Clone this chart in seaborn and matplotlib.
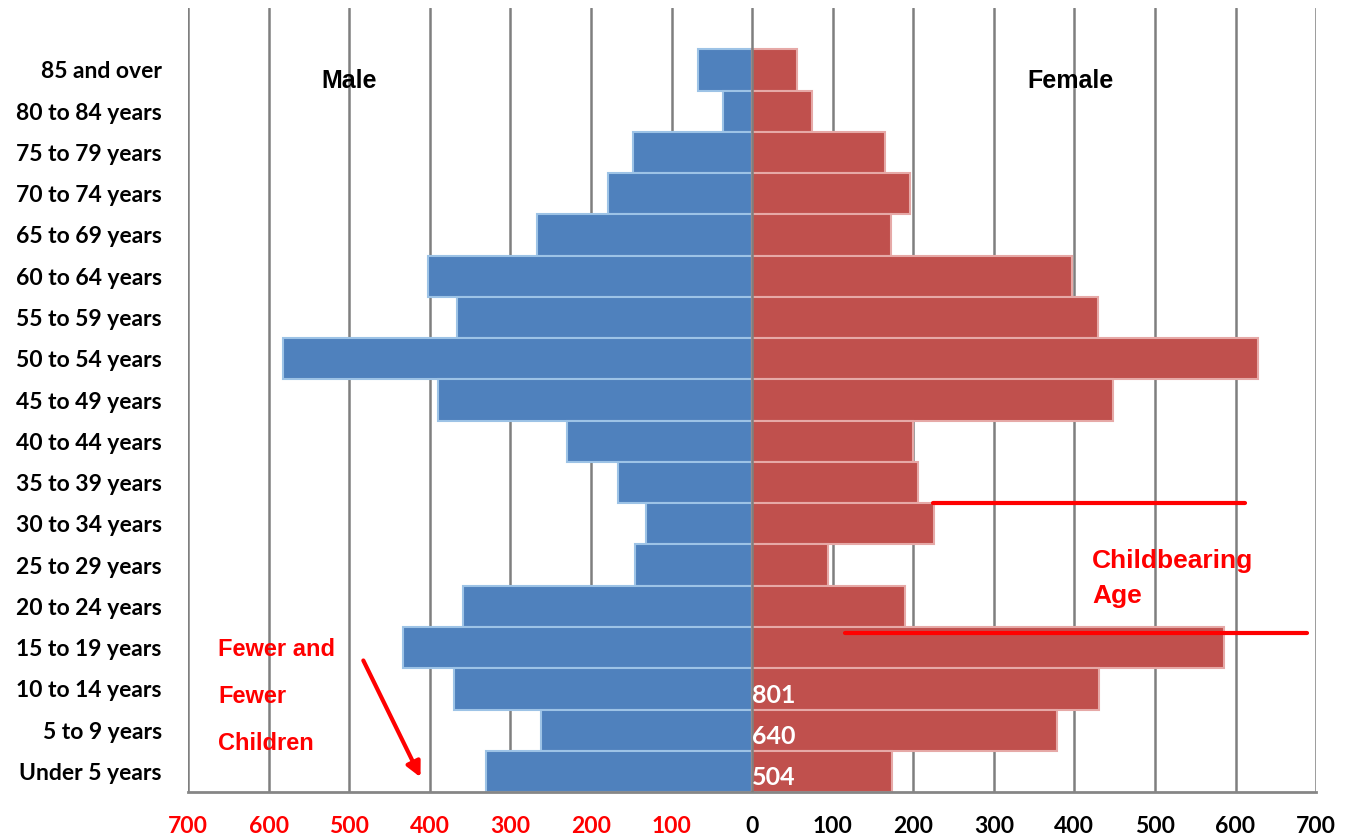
import pandas as pd
import matplotlib.pyplot as plt
import seaborn as sns

# age groups, top to bottom
ages = ['85 and over', '80 to 84 years', '75 to 79 years', '70 to 74 years',
        '65 to 69 years', '60 to 64 years', '55 to 59 years', '50 to 54 years',
        '45 to 49 years', '40 to 44 years', '35 to 39 years', '30 to 34 years',
        '25 to 29 years', '20 to 24 years', '15 to 19 years', '10 to 14 years',
        '5 to 9 years', 'Under 5 years']
male = [67, 36, 148, 179, 267, 402, 366, 582, 390, 230, 166, 132, 145, 359, 433, 370, 262, 330]
female = [56, 74, 165, 196, 172, 397, 429, 628, 448, 200, 206, 226, 94, 190, 586, 431, 378, 174]

# totals printed on the youngest groups
total_ages = ['10 to 14 years', '5 to 9 years', 'Under 5 years']
totals = [801, 640, 504]

ticks = [-700, -600, -500, -400, -300, -200, -100, 0, 100, 200, 300, 400, 500, 600, 700]

df = pd.DataFrame({'age': ages, 'male': [-v for v in male], 'female': female})

sns.set_style('white')
plt.rcParams['font.family'] = ['Lato', 'DejaVu Sans']

fig = plt.figure(figsize=(13.54, 8.40), dpi=100)
ax = fig.add_axes([0.1389, 0.057, 0.8331, 0.9335])

sns.barplot(data=df, x='male', y='age', order=ages, orient='h', color='#4F81BD',
            edgecolor='#9DC3E6', linewidth=1.5, width=1.0, saturation=1, ax=ax, zorder=2)
sns.barplot(data=df, x='female', y='age', order=ages, orient='h', color='#C0504D',
            edgecolor='#E6A9A7', linewidth=1.5, width=1.0, saturation=1, ax=ax, zorder=2)

ax.set_xlim(-700, 700)
ax.set_ylim(17.5, -1.5)
for t in ticks:
    ax.axvline(t, color='#7F7F7F', lw=1.8, zorder=1 if t != 0 else 3)

ax.set_xticks(ticks)
ax.set_xticklabels([str(abs(t)) for t in ticks])
for lab, t in zip(ax.get_xticklabels(), ticks):
    lab.set_color('#FF0000' if t < 0 else 'black')
ax.tick_params(axis='x', length=0, pad=17, labelsize=16.5)
ax.tick_params(axis='y', length=0, pad=19, labelsize=16.5, labelcolor='black')
for lab in ax.get_xticklabels() + ax.get_yticklabels():
    lab.set_fontweight('bold')
ax.set_xlabel('')
ax.set_ylabel('')

for s in ['top', 'left', 'right']:
    ax.spines[s].set_visible(False)
ax.spines['bottom'].set_color('#868686')
ax.spines['bottom'].set_linewidth(2)

arial = ['Liberation Sans', 'DejaVu Sans']
ax.text(-500, 0.27, 'Male', fontsize=18, fontweight='bold', ha='center', va='center',
        color='black', family=arial)
ax.text(395, 0.27, 'Female', fontsize=18, fontweight='bold', ha='center', va='center',
        color='black', family=arial)

for a, v in zip(total_ages, totals):
    ax.text(0, ages.index(a) + 0.15, str(v), color='white', fontsize=18, fontweight='bold',
            ha='left', va='center', zorder=4)

# childbearing age band
ax.plot([225, 612], [10.5, 10.5], color='#FF0000', lw=3, zorder=4)
ax.plot([115, 689], [13.65, 13.65], color='#FF0000', lw=3, zorder=4)
ax.text(422, 11.9, 'Childbearing', color='#FF0000', fontsize=19, fontweight='bold',
        ha='left', va='center', family=arial)
ax.text(422, 12.75, 'Age', color='#FF0000', fontsize=19, fontweight='bold',
        ha='left', va='center', family=arial)

for i, w in enumerate(['Fewer and', 'Fewer', 'Children']):
    ax.text(-663, 14.05 + i * 1.14, w, color='#FF0000', fontsize=17, fontweight='bold',
            ha='left', va='center', family=arial)
ax.annotate('', xy=(-410, 17.2), xytext=(-484, 14.25),
            arrowprops=dict(arrowstyle='-|>', color='#FF0000', lw=3, mutation_scale=22),
            zorder=4)

fig.savefig('out.png', dpi=100)
